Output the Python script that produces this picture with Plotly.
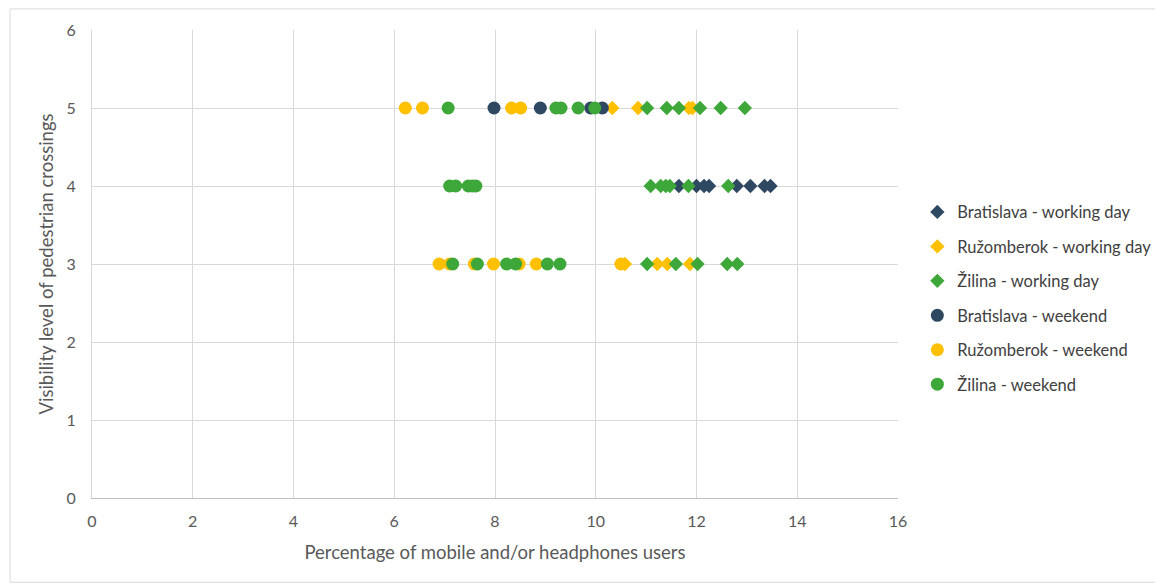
import plotly.graph_objects as go

# Data: (x = percentage of mobile/headphones users, y = visibility level)
brat_work_x = [11.65, 12.0, 12.15, 12.25, 12.8, 13.07, 13.35, 13.47]
brat_work_y = [4, 4, 4, 4, 4, 4, 4, 4]

ruz_work_x = [10.33, 10.84, 11.85, 11.92, 10.58, 11.22, 11.42, 11.87]
ruz_work_y = [5, 5, 5, 5, 3, 3, 3, 3]

zil_work_x = [11.02, 11.41, 11.65, 12.07, 12.48, 12.96,
              11.09, 11.29, 11.39, 11.47, 11.84, 12.63,
              11.02, 11.59, 12.02, 12.61, 12.81]
zil_work_y = [5, 5, 5, 5, 5, 5,
              4, 4, 4, 4, 4, 4,
              3, 3, 3, 3, 3]

brat_week_x = [7.98, 8.9, 9.9, 10.13]
brat_week_y = [5, 5, 5, 5]

ruz_week_x = [6.22, 6.56, 8.33, 8.51, 6.89, 7.1, 7.59, 7.97, 8.48, 8.82, 10.5]
ruz_week_y = [5, 5, 5, 5, 3, 3, 3, 3, 3, 3, 3]

zil_week_x = [7.07, 9.21, 9.31, 9.65, 9.98,
              7.1, 7.22, 7.47, 7.55, 7.62,
              7.16, 7.65, 8.23, 8.41, 9.04, 9.29]
zil_week_y = [5, 5, 5, 5, 5,
              4, 4, 4, 4, 4,
              3, 3, 3, 3, 3, 3]

x_ticks = [0, 2, 4, 6, 8, 10, 12, 14, 16]
y_ticks = [0, 1, 2, 3, 4, 5, 6]

NAVY = "#2F4862"
YELLOW = "#FFC000"
GREEN = "#3DA839"

series = [
    ("Bratislava - working day", brat_work_x, brat_work_y, NAVY, "diamond", 11),
    ("Ružomberok - working day", ruz_work_x, ruz_work_y, YELLOW, "diamond", 11),
    ("Žilina - working day", zil_work_x, zil_work_y, GREEN, "diamond", 11),
    ("Bratislava - weekend", brat_week_x, brat_week_y, NAVY, "circle", 13),
    ("Ružomberok - weekend", ruz_week_x, ruz_week_y, YELLOW, "circle", 13),
    ("Žilina - weekend", zil_week_x, zil_week_y, GREEN, "circle", 13),
]

fig = go.Figure()
for i, (name, xs, ys, col, sym, sz) in enumerate(series):
    fig.add_trace(go.Scatter(
        x=xs, y=ys, mode="markers", name=name, legendgroup=f"g{i}",
        marker=dict(color=col, symbol=sym, size=sz, line=dict(width=0)),
    ))

# page has an 8px body margin, so the figure is sized to fit inside the window
fig.update_layout(
    width=1155, height=577,
    margin=dict(l=84, r=265, t=22, b=87, autoexpand=False),
    paper_bgcolor="white", plot_bgcolor="white",
    font=dict(family="Lato, Liberation Sans, sans-serif", color="#595959", size=16),
    showlegend=True,
    legend=dict(x=1.024, y=0.648, xanchor="left", yanchor="top",
                font=dict(size=16.5, color="#404040"),
                tracegroupgap=10, itemsizing="trace",
                bgcolor="rgba(0,0,0,0)"),
    shapes=[dict(type="rect", xref="paper", yref="paper",
                 x0=-0.1017, x1=1.326, y0=-0.18, y1=1.045,
                 line=dict(color="#D9D9D9", width=1))],
)
fig.update_xaxes(
    range=[0, 16], tickvals=x_ticks, ticktext=[str(v) for v in x_ticks],
    showgrid=True, gridcolor="#D9D9D9", gridwidth=1,
    showline=True, linecolor="#BFBFBF", linewidth=1,
    zeroline=False, ticks="", ticklabelstandoff=9, automargin=False,
    title=dict(text="Percentage of mobile and/or headphones users",
               font=dict(size=18.5, color="#595959"), standoff=16),
)
fig.update_yaxes(
    range=[0, 6], tickvals=y_ticks, ticktext=[str(v) for v in y_ticks],
    showgrid=True, gridcolor="#D9D9D9", gridwidth=1,
    showline=True, linecolor="#D9D9D9", linewidth=1,
    zeroline=False, ticks="", ticklabelstandoff=12, automargin=False,
    title=dict(text="Visibility level of pedestrian crossings",
               font=dict(size=18.5, color="#595959"), standoff=8),
)

fig.write_html("out.html")
